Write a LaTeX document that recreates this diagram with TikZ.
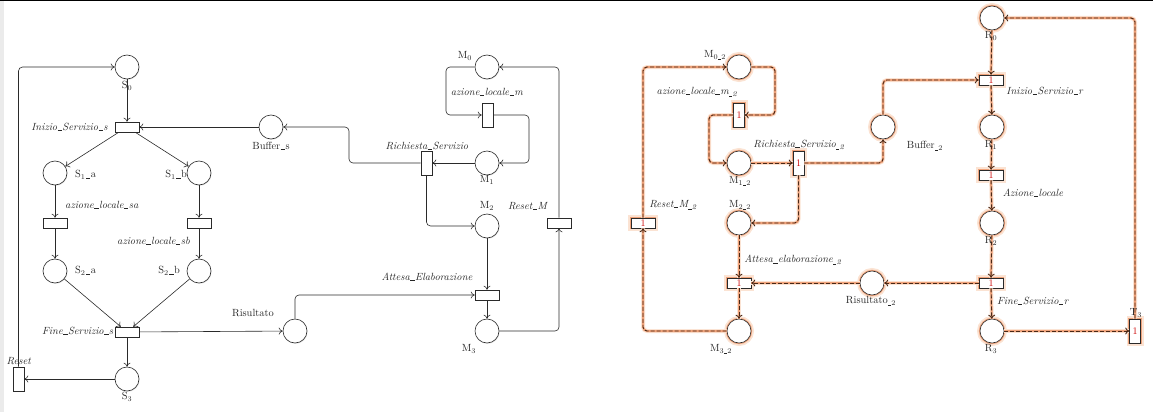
\documentclass[tikz,border=0pt]{standalone}
\usepackage{fontspec}
\usetikzlibrary{arrows.meta,shadows}
\newcommand{\ubar}{\leavevmode\kern.04em\vbox{\hrule width .42em height .4pt}\kern.04em}
\definecolor{glowA}{HTML}{FBE3D3}
\definecolor{glowB}{HTML}{EFA27A}
\definecolor{dashc}{HTML}{4A2816}
\definecolor{linec}{HTML}{2A2A2A}
\tikzset{
  place/.style={circle, draw=linec, line width=0.6pt, fill=white, minimum size=24pt, inner sep=0pt,
    drop shadow={opacity=0.18, shadow xshift=0.6pt, shadow yshift=-0.9pt}},
  htrans/.style={rectangle, draw=linec, line width=0.6pt, fill=white, minimum width=24pt, minimum height=10pt, inner sep=0pt,
    drop shadow={opacity=0.18, shadow xshift=0.6pt, shadow yshift=-0.9pt}},
  vtrans/.style={htrans, minimum width=11pt, minimum height=24pt},
  gplace/.style={circle, draw=linec, line width=0.6pt, fill=white, minimum size=24pt, inner sep=0pt,
    preaction={draw=glowA, line width=6pt}, preaction={draw=glowB, line width=2.4pt}},
  ghtrans/.style={rectangle, draw=linec, line width=0.6pt, fill=white, minimum width=24pt, minimum height=10pt, inner sep=0pt,
    text=red!80!black, font=\fontsize{10}{10}\selectfont,
    preaction={draw=glowA, line width=6pt}, preaction={draw=glowB, line width=2.4pt}},
  gvtrans/.style={ghtrans, minimum width=11pt, minimum height=24pt},
  arc/.style={draw=linec, line width=0.6pt, rounded corners=4pt, -{To[length=4pt,width=7pt]}},
  garc/.style={draw=dashc, line width=0.9pt, dash pattern=on 4pt off 2pt, rounded corners=4pt,
    -{To[length=4pt,width=7pt]},
    preaction={draw=glowA, line width=4pt, solid, arrows=-},
    preaction={draw=glowB, line width=2pt, solid, arrows=-}},
  lbl/.style={inner sep=0pt, text=black!85},
}
\begin{document}
\begin{tikzpicture}[x=1pt,y=-1pt, font=\fontsize{10.4}{12}\selectfont]
\useasboundingbox (0,0) rectangle (1155,412);
\fill[black] (0,0) rectangle (1153,1.4);
\fill[black!8] (0,1.4) rectangle (4,412);

% ---------------- left net ----------------
\node[lbl, anchor=west] (lFS) at (42,331) {\textit{Fine\ubar Servizio\ubar s}};
\node[place] (S0) at (127,67) {};
\node[htrans] (IS) at (127,127) {};
\node[place] (Bs) at (271,127) {};
\node[place] (S1a) at (55,173) {};
\node[place] (S1b) at (199,173) {};
\node[htrans] (ASa) at (55,223) {};
\node[htrans] (ASb) at (199,223) {};
\node[place] (S2a) at (55,271) {};
\node[place] (S2b) at (199,271) {};
\node[htrans] (FS) at (127,332) {};
\node[place] (S3) at (127,379) {};
\node[vtrans] (RS) at (18.5,379) {};
\node[place] (Ris) at (295,331) {};

\node[place] (M0) at (487,67) {};
\node[vtrans] (AZm) at (487.5,115) {};
\node[place] (M1) at (487,163) {};
\node[vtrans] (RichS) at (426.5,163) {};
\node[place] (M2) at (487,226) {};
\node[htrans] (RM) at (559,223) {};
\node[htrans] (AE) at (487,295) {};
\node[place] (M3) at (487,331) {};

\node[lbl] (lS0) at (127,86) {S\textsubscript{0}};
\node[lbl, anchor=east] (lIS) at (108,127) {\textit{Inizio\ubar Servizio\ubar s}};
\node[lbl] (lBs) at (271,146) {Buffer\ubar s};
\node[lbl, anchor=west] (lS1a) at (75,175) {S\textsubscript{1}\ubar a};
\node[lbl, anchor=east] (lS1b) at (187,175) {S\textsubscript{1}\ubar b};
\node[lbl, anchor=west] (lASa) at (65,205) {\textit{azione\ubar locale\ubar sa}};
\node[lbl, anchor=east] (lASb) at (190,241) {\textit{azione\ubar locale\ubar sb}};
\node[lbl, anchor=west] (lS2a) at (75,271) {S\textsubscript{2}\ubar a};
\node[lbl, anchor=east] (lS2b) at (180,271) {S\textsubscript{2}\ubar b};
\node[lbl] (lS3) at (127,397) {S\textsubscript{3}};
\node[lbl] (lRS) at (19,361) {\textit{Reset}};
\node[lbl] (lRis) at (253,313) {Risultato};
\node[lbl] (lM0) at (465,56) {M\textsubscript{0}};
\node[lbl] (lAZm) at (487,92) {\textit{azione\ubar locale\ubar m}};
\node[lbl] (lM1) at (487,180) {M\textsubscript{1}};
\node[lbl] (lRichS) at (427,146) {\textit{Richiesta\ubar Servizio}};
\node[lbl] (lM2) at (487,206) {M\textsubscript{2}};
\node[lbl] (lRM) at (528,206) {\textit{Reset\ubar M}};
\node[lbl] (lAE) at (427,277) {\textit{Attesa\ubar Elaborazione}};
\node[lbl] (lM3) at (469,349) {M\textsubscript{3}};

\draw[arc] (RS) |- (S0);
\draw[arc] (S0) -- (IS);
\draw[arc] (Bs) -- (IS);
\draw[arc] (IS) -- (S1a);
\draw[arc] (IS) -- (S1b);
\draw[arc] (S1a) -- (ASa);
\draw[arc] (S1b) -- (ASb);
\draw[arc] (ASa) -- (S2a);
\draw[arc] (ASb) -- (S2b);
\draw[arc] (S2a) -- (FS);
\draw[arc] (S2b) -- (FS);
\draw[arc] (FS) -- (S3);
\draw[arc] (FS) -- (Ris);
\draw[arc] (S3) -- (RS);
\draw[arc] (Ris) |- (AE);
\draw[arc] (M0) -- (446,67) |- (AZm);
\draw[arc] (AZm) -- (529,115) |- (M1);
\draw[arc] (M1) -- (RichS);
\draw[arc] (RichS) -- (349,163) |- (Bs);
\draw[arc] (RichS) |- (M2);
\draw[arc] (M2) -- (AE);
\draw[arc] (AE) -- (M3);
\draw[arc] (M3) -| (RM);
\draw[arc] (RM) |- (M0);

% ---------------- right net ----------------
\node[gplace] (M02) at (739,67) {};
\node[gvtrans] (AZm2) at (739,115) {1};
\node[gplace] (M12) at (739,163) {};
\node[gvtrans] (RichS2) at (798.5,163) {1};
\node[gplace] (B2) at (883,127) {};
\node[gplace] (M22) at (739,223) {};
\node[ghtrans] (RM2) at (643,223) {1};
\node[ghtrans] (AE2) at (739,283) {1};
\node[gplace] (M32) at (739,331) {};
\node[gplace] (Ris2) at (872,283) {};
\node[gplace] (R0) at (992,18) {};
\node[ghtrans] (IR) at (991,80) {1};
\node[gplace] (R1) at (992,127) {};
\node[ghtrans] (AL) at (991,175) {1};
\node[gplace] (R2) at (992,223) {};
\node[ghtrans] (FR) at (991,283) {1};
\node[gplace] (R3) at (992,331) {};
\node[gvtrans] (T3) at (1135,331) {1};

\node[lbl] (lM02) at (715,55) {M\textsubscript{0\ubar 2}};
\node[lbl] (lAZm2) at (697,92) {\textit{azione\ubar locale\ubar m\textsubscript{\ubar 2}}};
\node[lbl] (lM12) at (740,181) {M\textsubscript{1\ubar 2}};
\node[lbl] (lRichS2) at (799,145) {\textit{Richiesta\ubar Servizio\textsubscript{\ubar 2}}};
\node[lbl] (lRM2) at (673,205) {\textit{Reset\ubar M\textsubscript{\ubar 2}}};
\node[lbl] (lM22) at (740,205) {M\textsubscript{2\ubar 2}};
\node[lbl] (lB2) at (925,146) {Buffer\textsubscript{\ubar 2}};
\node[lbl] (lIR) at (1045,91) {\textit{Inizio\ubar Servizio\ubar r}};
\node[lbl] (lAL) at (1033,193) {\textit{Azione\ubar locale}};
\node[lbl] (lFR) at (1033,301) {\textit{Fine\ubar Servizio\ubar r}};
\node[lbl] (lRis2) at (871,301) {Risultato\textsubscript{\ubar 2}};
\node[lbl] (lAE2) at (793,260) {\textit{Attesa\ubar elaborazione\textsubscript{\ubar 2}}};
\node[lbl] (lM32) at (721,349) {M\textsubscript{3\ubar 2}};

\draw[garc] (RM2) |- (M02);
\draw[garc] (M02) -- (775,67) |- (AZm2);
\draw[garc] (AZm2) -- (709,115) |- (M12);
\draw[garc] (M12) -- (RichS2);
\draw[garc] (RichS2) -| (B2);
\draw[garc] (RichS2) |- (M22);
\draw[garc] (B2) |- (IR);
\draw[garc] (R0) -- (IR);
\draw[garc] (IR) -- (R1);
\draw[garc] (R1) -- (AL);
\draw[garc] (AL) -- (R2);
\draw[garc] (R2) -- (FR);
\draw[garc] (FR) -- (R3);
\draw[garc] (FR) -- (Ris2);
\draw[garc] (Ris2) -- (AE2);
\draw[garc] (M22) -- (AE2);
\draw[garc] (AE2) -- (M32);
\draw[garc] (M32) -| (RM2);
\draw[garc] (R3) -- (T3);
\draw[garc] (T3) |- (R0);

% labels that the dashed arcs run through, drawn on top as in the reference
\node[lbl] (lR0) at (991,36) {R\textsubscript{0}};
\node[lbl] (lR1) at (991,145) {R\textsubscript{1}};
\node[lbl] (lR2) at (991,241) {R\textsubscript{2}};
\node[lbl] (lR3) at (991,349) {R\textsubscript{3}};
\node[lbl] (lT3) at (1136,313) {T\textsubscript{3}};
\end{tikzpicture}
\end{document}
